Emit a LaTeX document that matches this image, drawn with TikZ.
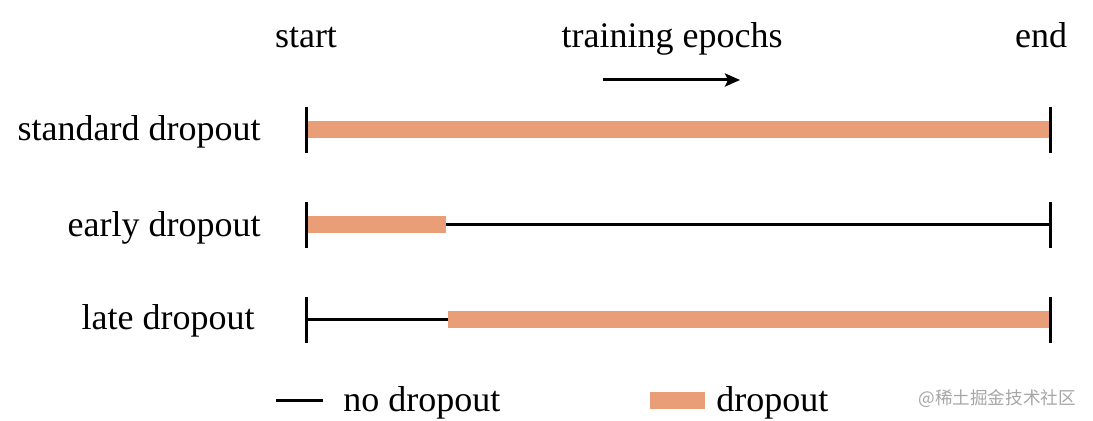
\documentclass[tikz,border=0pt]{standalone}
\usepackage{fontspec}
\setmainfont{Liberation Serif}
\newfontfamily\cjk{Noto Sans CJK SC}
\usetikzlibrary{calc,arrows.meta}
\definecolor{dropcol}{HTML}{E99E78}

\begin{document}
\begin{tikzpicture}[x=0.5pt,y=-0.5pt,font=\fontsize{18}{21}\selectfont]
\useasboundingbox (0,0) rectangle (1093,421);

% start and end of each row
\coordinate (s1) at (306,130);
\coordinate (e1) at (1050,130);
\coordinate (s2) at (306,225);
\coordinate (m2) at (446,225);
\coordinate (e2) at (1050,225);
\coordinate (s3) at (306,320);
\coordinate (m3) at (448,320);
\coordinate (e3) at (1050,320);

% head
\node[anchor=base] (start) at (306,48) {start};
\node[anchor=base] (end) at (1041,48) {end};
\node[anchor=base] (epochs) at (672,48) {training epochs};
\coordinate (a) at (603,80);
\coordinate (b) at (740,80);
\draw[-{Stealth[length=7.5pt,width=6.5pt,inset=1.5pt]},line width=1.5pt] (a) -- (b);

% row labels
\node[anchor=base east,inner sep=0pt] (std) at (261,141) {standard dropout};
\node[anchor=base east,inner sep=0pt] (early) at (261,237) {early dropout};
\node[anchor=base east,inner sep=0pt] (late) at (255,330) {late dropout};

% standard dropout
\draw[dropcol,line width=8.5pt] (s1) -- (e1);
% early dropout
\draw[line width=1.5pt] (m2) -- (e2);
\draw[dropcol,line width=8.5pt] (s2) -- (m2);
% late dropout
\draw[line width=1.5pt] (s3) -- (m3);
\draw[dropcol,line width=8.5pt] (m3) -- (e3);

% ticks
\foreach \p in {s1,e1,s2,e2,s3,e3}
  \draw[line width=1.5pt] ($(\p)+(0,-23)$) -- ($(\p)+(0,23)$);

% legend
\coordinate (la) at (276,401);
\coordinate (lb) at (323,401);
\draw[line width=1.5pt] (la) -- (lb);
\node[anchor=base west,inner sep=0pt] (nodrop) at (343,412) {no dropout};
\coordinate (lc) at (650,401);
\coordinate (ld) at (705,401);
\draw[dropcol,line width=8.5pt] (lc) -- (ld);
\node[anchor=base west,inner sep=0pt] (drop) at (716,412) {dropout};

% watermark
\node[anchor=base west,inner sep=0pt,text=black!35,font=\cjk\fontsize{8.8}{10}\selectfont] (mark) at (918,405) {@稀土掘金技术社区};

\end{tikzpicture}
\end{document}
